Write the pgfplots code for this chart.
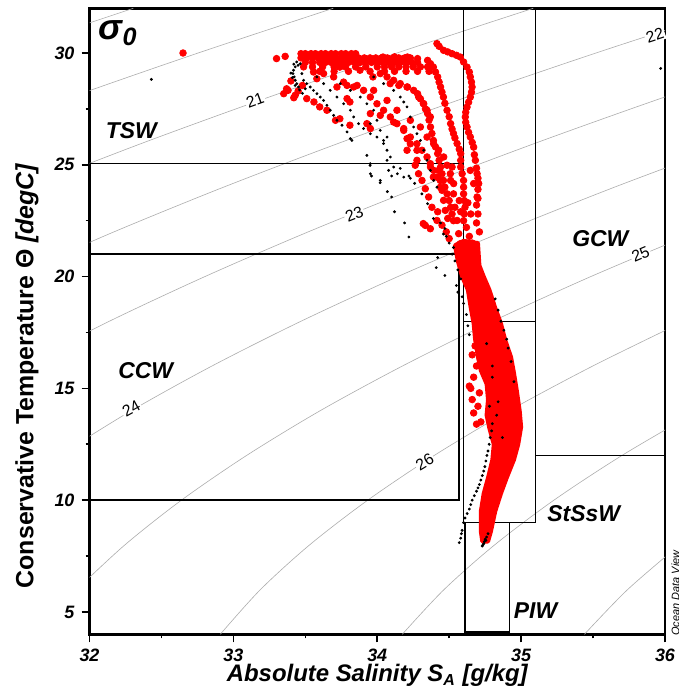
\documentclass[border=0pt]{standalone}
\usepackage{fontspec}
\setmainfont{Liberation Sans}
\usepackage{pgfplots}
\pgfplotsset{compat=1.18}
\tikzset{cl/.style={font=\fontsize{8}{9}\selectfont, fill=white, inner sep=0.6pt},
 wl/.style={font=\fontsize{11.5}{13}\selectfont\bfseries\itshape}}
\pgfplotsset{iso/.style={gray!65, line width=0.3bp, smooth, no marks},
 wm/.style={black, line width=0.8bp, no marks}}
\begin{document}
\begin{tikzpicture}
\begin{axis}[
 name=ax,
 scale only axis, width=287.75bp, height=313bp,
 xmin=32, xmax=36, ymin=4, ymax=32,
 xtick={32,33,34,35,36}, ytick={5,10,15,20,25,30},
 minor x tick num=1, minor y tick num=1,
 tick align=outside, tick pos=left,
 major tick length=4bp, minor tick length=2bp,
 every tick/.style={black, line width=0.8bp},
 axis line style={line width=1.3bp},
 /pgf/number format/assume math mode=true,
 ticklabel style={font=\fontsize{9}{10}\selectfont\bfseries\itshape},
 clip mode=individual,
 xlabel={\fontsize{12}{14}\selectfont\bfseries\itshape Absolute Salinity S\textsubscript{A} [g/kg]},
 ylabel={\fontsize{12.5}{14}\selectfont\bfseries Conservative Temperature Θ \itshape[degC]},
 every axis x label/.style={at={(axis description cs:0.5,-0.066)}, anchor=center},
 every axis y label/.style={at={(axis description cs:-0.1086,0.4126)}, rotate=90, anchor=center},
]
% isopycnals
\addplot[iso] coordinates {(31.373,30) (32.305,32)};
\addplot[iso] coordinates {(31.014,26) (31.861,28) (32.755,30) (33.694,32)};
\addplot[iso] coordinates {(31.575,24) (32.380,26) (33.235,28) (34.137,30) (35.084,32)};
\addplot[iso] coordinates {(31.461,20) (32.170,22) (32.932,24) (33.747,26) (34.610,28) (35.520,30) (36.474,32)};
\addplot[iso] coordinates {(31.528,16) (32.137,18) (32.802,20) (33.520,22) (34.291,24) (35.113,26) (35.984,28) (36.902,30)};
\addplot[iso] coordinates {(31.788,12) (32.290,14) (32.851,16) (33.469,18) (34.143,20) (34.870,22) (35.649,24) (36.480,26)};
\addplot[iso] coordinates {(31.911,6) (32.246,8) (32.639,10) (33.092,12) (33.603,14) (34.175,16) (34.802,18) (35.484,20) (36.220,22)};
\addplot[iso] coordinates {(32.909,4) (33.188,6) (33.530,8) (33.934,10) (34.396,12) (34.917,14) (35.498,16) (36.133,18)};
\addplot[iso] coordinates {(34.174,4) (34.464,6) (34.816,8) (35.228,10) (35.701,12) (36.232,14)};
\addplot[iso] coordinates {(35.440,4) (35.740,6) (36.101,8)};
% water mass boxes
\addplot[wm] coordinates {(32,25.05) (34.6,25.05)};
\addplot[wm] coordinates {(32,21) (34.57,21) (34.57,10) (32,10)};
\addplot[wm] coordinates {(34.6,32) (34.6,9) (35.1,9) (35.1,32)};
\addplot[wm] coordinates {(34.6,18) (35.1,18)};
\addplot[wm] coordinates {(35.1,12) (36,12)};
\addplot[wm] coordinates {(34.61,9) (34.61,4.1) (34.92,4.1) (34.92,9)};
% dense red band
\addplot[fill=red, draw=red, line width=2bp, line join=round, no marks] coordinates {
(34.73,8.15) (34.72,8.6) (34.72,9.5) (34.74,10.3) (34.77,11.0) (34.80,11.8) (34.81,12.5) (34.78,13.2)
(34.76,13.8) (34.77,14.5) (34.76,15.2) (34.72,15.8) (34.70,16.4) (34.68,17.2) (34.67,17.9) (34.65,18.6)
(34.63,19.4) (34.59,20.0) (34.56,20.7) (34.54,21.4) (34.60,21.6) (34.70,21.5) (34.71,20.5) (34.74,20.0)
(34.78,19.4) (34.82,18.6) (34.86,17.9) (34.89,17.15) (34.93,16.4) (34.95,15.7) (34.97,14.9) (34.99,14.0)
(35.00,13.27) (34.98,12.5) (34.95,11.8) (34.90,11.0) (34.86,10.3) (34.82,9.5) (34.79,8.6) (34.77,8.15)
} -- cycle;
% red scatter
\addplot[only marks, mark=*, mark size=1.65bp, red, mark options={draw=red, fill=red}] coordinates {
(32.65,30.0) (33.30,29.75) (33.36,29.85)
(33.47,29.97) (33.50,29.97) (33.54,29.97) (33.57,29.97) (33.61,29.97) (33.64,29.97) (33.68,29.97) (33.71,29.97) (33.75,29.97) (33.78,29.97) (33.82,29.97) (33.85,29.97)
(33.47,29.78) (33.51,29.78) (33.55,29.78) (33.59,29.78) (33.63,29.78) (33.67,29.78) (33.71,29.78) (33.75,29.78) (33.79,29.78) (33.83,29.78) (33.87,29.78) (33.91,29.78) (33.95,29.78) (33.99,29.78) (34.03,29.78) (34.07,29.78) (34.11,29.78) (34.15,29.78) (34.19,29.78) (34.23,29.78)
(33.50,29.58) (33.55,29.58) (33.60,29.58) (33.64,29.58) (33.68,29.58) (33.72,29.58) (33.76,29.58) (33.80,29.58) (33.84,29.58) (33.88,29.58) (33.92,29.58) (33.96,29.58) (34.00,29.58) (34.04,29.58) (34.08,29.58) (34.12,29.58) (34.16,29.58) (34.20,29.58) (34.24,29.58) (34.28,29.58)
(33.55,29.38) (33.62,29.38) (33.70,29.38) (33.78,29.38) (33.85,29.38) (33.92,29.38) (34.00,29.38) (34.05,29.38) (34.10,29.38) (34.15,29.38) (34.20,29.38) (34.25,29.38) (34.30,29.38) (34.35,29.38)
(33.60,29.18) (33.70,29.18) (33.80,29.18) (33.95,29.18) (34.05,29.18) (34.12,29.18) (34.20,29.18) (34.28,29.18) (34.36,29.18)
(33.35,28.18) (33.38,28.33) (33.43,28.11) (33.48,28.55) (33.51,27.96) (33.56,27.81) (33.60,27.59) (33.65,27.44) (33.71,26.99) (33.74,27.06) (33.81,26.77) (33.79,27.96) (33.81,27.81) (33.40,28.75) (33.42,28.0) (33.37,28.4) (33.45,28.3)
(33.72,28.48) (33.79,28.55) (33.86,28.55) (33.58,28.85)
(33.488,29.38) (33.557,29.15) (33.627,29.08) (33.697,28.93) (33.766,28.70) (33.836,28.48) (33.905,28.33) (33.952,28.03) (33.998,27.73) (34.044,27.44) (34.091,27.14) (34.137,26.84) (34.184,26.54) (34.23,26.24) (34.276,25.94) (34.311,25.65) (34.346,25.35) (34.369,25.05) (34.392,24.75) (34.415,24.45) (34.439,24.0)
(34.021,29.08) (34.068,28.93) (34.114,28.78) (34.16,28.63) (34.207,28.48) (34.253,28.33) (34.288,28.03) (34.323,27.73) (34.346,27.44) (34.369,27.14)
(33.975,28.33) (34.068,27.88) (34.137,27.44) (34.23,26.99) (34.30,26.69) (34.346,26.24) (34.392,25.94) (34.427,25.65) (34.462,25.35) (34.485,24.98) (34.508,24.6) (34.531,24.16)
(33.952,27.29) (34.021,27.21) (33.928,26.84) (33.952,26.62) (34.114,26.91) (34.184,26.62) (34.207,26.17) (34.23,25.94) (34.276,25.65) (34.207,25.65) (34.276,25.2)
(34.415,30.42) (34.461,30.12) (34.520,29.97) (34.577,29.82) (34.624,29.37) (34.647,28.93) (34.659,28.48) (34.647,28.03) (34.624,27.58) (34.612,27.14) (34.624,26.69) (34.647,26.24) (34.670,25.79) (34.682,25.20) (34.694,24.60) (34.705,24.16) (34.70,23.5) (34.70,22.8) (34.71,22.0)
(34.43,30.3) (34.49,30.05) (34.55,29.9) (34.60,29.6) (34.64,29.15) (34.655,28.7) (34.655,28.25) (34.635,27.8) (34.615,27.35) (34.615,26.9) (34.635,26.45) (34.66,26.0) (34.675,25.45) (34.69,24.85) (34.70,24.4) (34.70,23.9) (34.69,23.2) (34.69,22.4)
(34.04,29.82) (34.21,29.82) (34.35,29.67) (34.39,29.37) (34.42,28.93) (34.44,28.48) (34.46,28.03) (34.485,27.44) (34.51,26.84) (34.53,26.4) (34.555,25.95) (34.58,25.5) (34.58,24.9) (34.60,24.3) (34.60,23.7) (34.61,23.1) (34.60,22.5)
(34.12,29.83) (34.28,29.75) (34.37,29.52) (34.405,29.15) (34.43,28.7) (34.45,28.25) (34.47,27.75) (34.50,27.15) (34.52,26.6) (34.54,26.2) (34.57,25.7) (34.58,25.2) (34.59,24.6) (34.60,24.0) (34.605,23.4) (34.605,22.8)
(33.74,29.37) (33.88,29.23) (33.97,28.93) (34.09,28.63) (34.21,28.48) (34.28,28.18) (34.32,27.74) (34.35,27.29) (34.37,26.69) (34.39,26.09) (34.42,25.5) (34.44,24.9) (34.46,24.3) (34.485,23.7) (34.51,23.1) (34.53,22.5)
(34.15,28.55) (34.30,27.95) (34.335,27.5) (34.36,27.0) (34.38,26.4) (34.405,25.8) (34.43,25.2) (34.45,24.6) (34.47,24.0) (34.50,23.4) (34.52,22.8)
(34.264,24.98) (34.287,24.6) (34.311,24.3) (34.334,23.93) (34.357,23.56) (34.38,23.1) (34.334,22.29) (34.369,22.14) (34.32,22.37) (34.415,22.51) (34.427,24.75) (34.438,24.3) (34.45,23.86) (34.461,23.41) (34.473,22.96) (34.39,24.45) (34.37,24.9) (34.52,24.9) (34.51,24.3) (34.53,23.7) (34.54,23.1) (34.555,22.51) (34.566,21.92) (34.577,21.47) (34.647,24.75) (34.67,24.16) (34.694,23.56)
(34.45,22.3) (34.48,22.0) (34.50,21.7) (34.62,22.2) (34.64,21.8) (34.66,21.5) (34.58,22.9) (34.63,23.3) (34.65,22.8) (34.57,23.4) (34.49,22.6) (34.42,22.9)
(34.65,15.0) (34.66,14.5) (34.67,15.5) (34.69,16.0) (34.66,16.5) (34.70,14.2) (34.67,13.9) (34.72,13.5) (34.64,15.1) (34.68,16.9) (34.69,13.4) (34.71,14.8)
};
% black scatter
\addplot[only marks, mark=*, mark size=0.5bp, black] coordinates {
(32.43,28.82) (35.97,29.31)
(33.418,29.23) (33.414,29.08) (33.423,28.93) (33.43,28.78) (33.441,28.63) (33.453,28.48) (33.43,29.38) (33.465,29.52) (33.476,29.08) (33.488,28.78) (33.51,28.63) (33.534,28.48) (33.557,28.33) (33.581,28.18) (33.604,28.03) (33.627,27.88) (33.65,27.66) (33.673,27.44) (33.697,27.21) (33.72,26.99) (33.755,26.77) (33.79,26.47) (33.813,26.17) (33.824,26.09)
(33.44,29.6) (33.45,29.45) (33.42,29.5) (33.40,29.1) (33.41,28.9) (33.43,28.55) (33.46,28.35) (33.48,28.2) (33.50,28.4)
(33.58,28.93) (33.627,28.63) (33.673,28.33) (33.72,28.03) (33.766,27.73) (33.813,27.44) (33.836,27.14) (33.87,26.84) (33.905,26.62) (33.952,26.39) (33.998,26.24) (34.044,26.09)
(33.743,28.63) (33.813,28.33) (33.882,28.03) (33.928,27.73) (33.975,27.44) (33.998,26.99) (33.952,26.84) (34.021,26.54) (34.068,26.24) (34.044,25.95) (34.068,25.65) (34.091,25.35)
(33.975,28.93) (34.044,28.63) (34.114,28.33) (34.16,28.03) (34.184,27.81) (34.207,27.59) (34.23,27.14) (34.253,26.69) (34.276,26.39) (34.30,26.09) (34.323,25.65) (34.346,25.2) (34.369,24.75) (34.392,24.3) (34.415,24.0)
(33.928,25.42) (33.952,25.05) (33.952,24.6) (34.021,24.3) (34.068,25.2) (34.079,24.75) (34.114,24.9) (34.14,24.6) (34.184,24.45) (34.23,24.4)
(34.22,21.77) (34.19,22.4) (34.12,22.9) (34.10,23.56) (34.07,23.8) (34.02,24.2) (33.96,24.5) (33.95,24.97) (34.10,24.5) (34.16,24.84) (34.22,24.5) (34.26,24.17) (34.31,23.7) (34.35,23.26) (34.39,22.6) (34.44,22.4) (34.47,22.15) (34.48,21.8) (34.53,21.3) (34.42,20.85) (34.41,20.4) (34.47,20.05) (34.55,19.6) (34.56,19.3) (34.59,19.1) (34.60,18.8)
(34.62,18.3) (34.63,17.8) (34.64,17.4) (34.58,19.9) (34.56,20.3) (34.54,20.7) (34.52,21.0) (34.50,21.5) (34.46,21.9)
(34.80,13.42) (34.785,12.8) (34.77,12.2) (34.755,11.75) (34.74,11.3) (34.72,10.9) (34.70,10.55) (34.675,10.2) (34.65,9.8) (34.625,9.4) (34.60,9.0) (34.59,8.65) (34.58,8.3) (34.57,8.1)
(34.795,13.1) (34.778,12.5) (34.762,12.0) (34.748,11.5) (34.73,11.1) (34.71,10.7) (34.69,10.4) (34.66,10.0) (34.64,9.6) (34.61,9.2) (34.585,8.5)
(34.73,7.95) (34.74,8.05) (34.745,8.15) (34.75,8.25) (34.76,8.35) (34.77,8.5) (34.735,8.0) (34.755,8.2)
(34.91,16.8) (34.90,17.2) (34.88,17.6) (34.93,16.2) (34.86,18.0) (34.95,15.3) (34.84,18.5) (34.82,19.0)
(34.84,14.4) (34.80,15.5) (34.78,14.2) (34.83,13.8) (34.87,12.8) (34.80,16.0) (34.76,17.0)
};
% contour labels
\node[cl, rotate=20] at (axis cs:33.15,27.9) {21};
\node[cl, rotate=18] at (axis cs:35.93,30.8) {22};
\node[cl, rotate=22] at (axis cs:33.84,22.8) {23};
\node[cl, rotate=29] at (axis cs:32.29,14.1) {24};
\node[cl, rotate=23] at (axis cs:35.83,21.0) {25};
\node[cl, rotate=31] at (axis cs:34.33,11.7) {26};
% water mass labels
\node[font=\fontsize{18}{20}\selectfont\bfseries\itshape] at (axis cs:32.20,30.88) {σ\textsubscript{0}};
\node[wl] at (axis cs:32.29,26.54) {TSW};
\node[wl] at (axis cs:32.39,15.8) {CCW};
\node[wl] at (axis cs:35.55,21.7) {GCW};
\node[wl] at (axis cs:35.435,9.39) {StSsW};
\node[wl] at (axis cs:35.10,5.06) {PIW};
\node[rotate=90, font=\fontsize{5.5}{6}\selectfont\itshape] at (axis description cs:1.018,0.066) {Ocean Data View};
\end{axis}
\pgfresetboundingbox
\useasboundingbox ([shift={(-44.75bp,-26.85bp)}]ax.south west) rectangle ([shift={(7bp,4.15bp)}]ax.north east);
\end{tikzpicture}
\end{document}
